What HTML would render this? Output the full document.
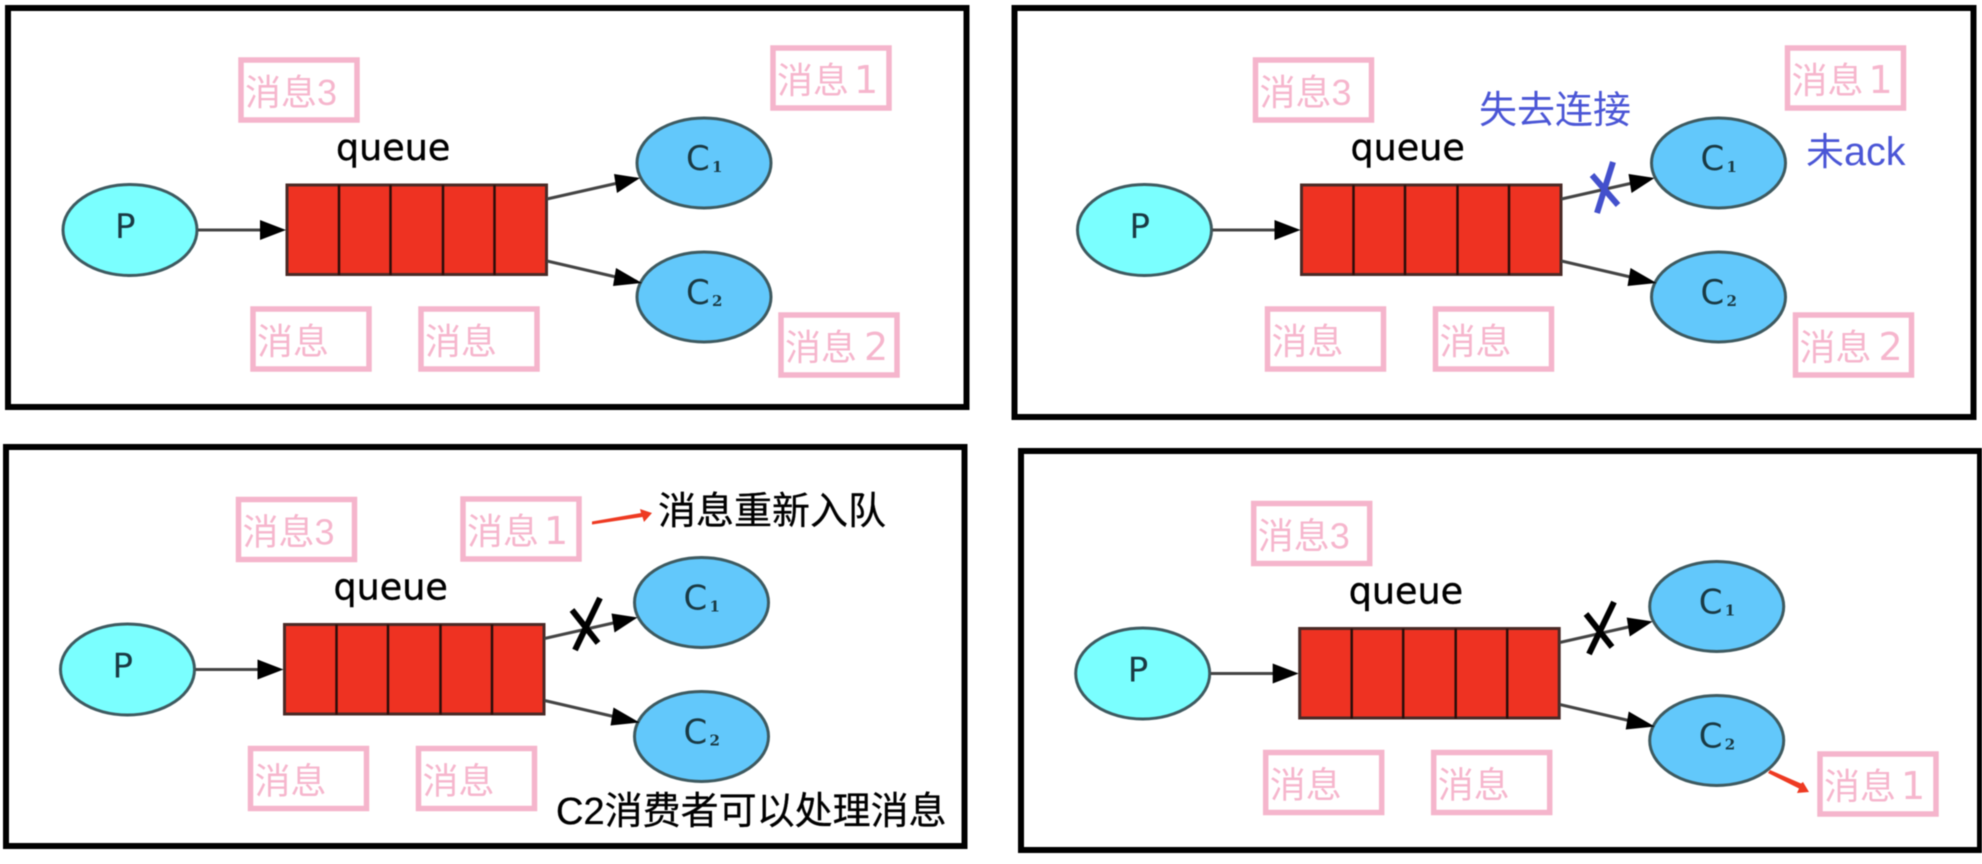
<!DOCTYPE html>
<html lang="zh">
<head>
<meta charset="utf-8">
<title>Message requeue diagram</title>
<style>
html,body{margin:0;padding:0;background:#fff;width:1982px;height:864px;overflow:hidden}
svg{display:block;filter:blur(.6px)}
.m{fill:#f6b6cd;font-family:"Liberation Sans","Noto Sans CJK SC",sans-serif;font-size:36px}
.d{fill:#f6b6cd;font-family:"DejaVu Sans",sans-serif;font-size:38px}
.b{fill:none;stroke:#f5b5cc;stroke-width:5.5}
.q{font-family:"DejaVu Sans",sans-serif;font-size:36.500px;fill:#000;stroke:#000;stroke-width:.4}
.n{font-family:"DejaVu Sans",sans-serif;font-size:34px;fill:#1a3a44}
.s{font-family:"DejaVu Serif",serif;font-size:15px;font-weight:bold;fill:#1a3a44}
.blue{fill:#4b56d6;font-family:"Liberation Sans","Noto Sans CJK SC",sans-serif;font-size:38px}
.blk{fill:#000;stroke:#000;stroke-width:.3;font-family:"Liberation Sans","Noto Sans CJK SC",sans-serif;font-size:38px}
.f{fill:none;stroke:#000;stroke-width:6}
.e{stroke:#3e5a60;stroke-width:3}
.l{stroke:#444;stroke-width:3;fill:none}
</style>
</head>
<body>
<svg width="1982" height="864" viewBox="0 0 1982 864" xmlns="http://www.w3.org/2000/svg">
<rect width="1982" height="864" fill="#fff"/>
<rect class="f" x="8" y="8" width="958.5" height="399"/>
<rect class="f" x="1014.5" y="8" width="959" height="409"/>
<rect class="f" x="6" y="447" width="958.5" height="399"/>
<rect class="f" x="1021" y="451" width="959" height="399"/>

<!-- Panel 1 -->
<g>
<ellipse class="e" cx="130" cy="230" rx="67" ry="45.5" fill="#7affff"/>
<line class="l" x1="198" y1="230" x2="262" y2="230"/>
<polygon points="260,220 286,230 260,240" fill="#000"/>
<rect x="287" y="185" width="259.5" height="89.5" fill="#ee3222" stroke="#4a2a26" stroke-width="3"/>
<path d="M339 185V275M390.500 185V275M443 185V275M494.500 185V275" stroke="#2a0e0a" stroke-width="2.5" fill="none"/>
<ellipse class="e" cx="704" cy="163" rx="67" ry="45" fill="#62c8fb"/>
<ellipse class="e" cx="704" cy="297" rx="67" ry="45" fill="#62c8fb"/>
<line class="l" x1="547" y1="199" x2="618" y2="183"/>
<polygon points="614,174 640,178 617,193" fill="#000"/>
<line class="l" x1="547" y1="261" x2="616" y2="277"/>
<polygon points="616,268 642,283 613,286" fill="#000"/>
<text class="q" x="336" y="160">queue</text>
<text class="n" x="115" y="238">P</text>
<text class="n" x="686" y="170">C</text><text class="s" x="712" y="172">1</text>
<text class="n" x="686" y="304">C</text><text class="s" x="712" y="306">2</text>
<rect class="b" x="241" y="60" width="116" height="60"/>
<text class="m" x="245" y="105">消息3</text>
<rect class="b" x="253" y="309" width="116" height="60"/>
<text class="m" x="257" y="354">消息</text>
<rect class="b" x="421" y="309" width="116" height="60"/>
<text class="m" x="425" y="354">消息</text>
</g>
<rect class="b" x="773" y="48" width="116" height="60"/>
<text class="m" x="777" y="93">消息</text><text class="d" x="854" y="93">1</text>
<rect class="b" x="781" y="315" width="116" height="60"/>
<text class="m" x="785" y="360">消息</text><text class="d" x="864" y="360">2</text>

<!-- Panel 2 -->
<g transform="translate(1014.5 0)">
<ellipse class="e" cx="130" cy="230" rx="67" ry="45.5" fill="#7affff"/>
<line class="l" x1="198" y1="230" x2="262" y2="230"/>
<polygon points="260,220 286,230 260,240" fill="#000"/>
<rect x="287" y="185" width="259.5" height="89.5" fill="#ee3222" stroke="#4a2a26" stroke-width="3"/>
<path d="M339 185V275M390.500 185V275M443 185V275M494.500 185V275" stroke="#2a0e0a" stroke-width="2.5" fill="none"/>
<ellipse class="e" cx="704" cy="163" rx="67" ry="45" fill="#62c8fb"/>
<ellipse class="e" cx="704" cy="297" rx="67" ry="45" fill="#62c8fb"/>
<line class="l" x1="547" y1="199" x2="618" y2="183"/>
<polygon points="614,174 640,178 617,193" fill="#000"/>
<line class="l" x1="547" y1="261" x2="616" y2="277"/>
<polygon points="616,268 642,283 613,286" fill="#000"/>
<text class="q" x="336" y="160">queue</text>
<text class="n" x="115" y="238">P</text>
<text class="n" x="686" y="170">C</text><text class="s" x="712" y="172">1</text>
<text class="n" x="686" y="304">C</text><text class="s" x="712" y="306">2</text>
<rect class="b" x="241" y="60" width="116" height="60"/>
<text class="m" x="245" y="105">消息3</text>
<rect class="b" x="253" y="309" width="116" height="60"/>
<text class="m" x="257" y="354">消息</text>
<rect class="b" x="421" y="309" width="116" height="60"/>
<text class="m" x="425" y="354">消息</text>
<rect class="b" x="773" y="48" width="116" height="60"/>
<text class="m" x="777" y="93">消息</text><text class="d" x="854" y="93">1</text>
<rect class="b" x="781" y="315" width="116" height="60"/>
<text class="m" x="785" y="360">消息</text><text class="d" x="864" y="360">2</text>
</g>
<text class="blue" x="1479" y="123">失去连接</text>
<text class="blue" x="1806" y="165">未<tspan font-size="39.500">ack</tspan></text>
<path d="M1592 175L1618 205M1613 162L1597 213" stroke="#4350cc" stroke-width="6" fill="none"/>

<!-- Panel 3 -->
<g transform="translate(-2.500 439.500)">
<ellipse class="e" cx="130" cy="230" rx="67" ry="45.5" fill="#7affff"/>
<line class="l" x1="198" y1="230" x2="262" y2="230"/>
<polygon points="260,220 286,230 260,240" fill="#000"/>
<rect x="287" y="185" width="259.5" height="89.5" fill="#ee3222" stroke="#4a2a26" stroke-width="3"/>
<path d="M339 185V275M390.500 185V275M443 185V275M494.500 185V275" stroke="#2a0e0a" stroke-width="2.5" fill="none"/>
<ellipse class="e" cx="704" cy="163" rx="67" ry="45" fill="#62c8fb"/>
<ellipse class="e" cx="704" cy="297" rx="67" ry="45" fill="#62c8fb"/>
<line class="l" x1="547" y1="199" x2="618" y2="183"/>
<polygon points="614,174 640,178 617,193" fill="#000"/>
<line class="l" x1="547" y1="261" x2="616" y2="277"/>
<polygon points="616,268 642,283 613,286" fill="#000"/>
<text class="q" x="336" y="160">queue</text>
<text class="n" x="115" y="238">P</text>
<text class="n" x="686" y="170">C</text><text class="s" x="712" y="172">1</text>
<text class="n" x="686" y="304">C</text><text class="s" x="712" y="306">2</text>
<rect class="b" x="241" y="60" width="116" height="60"/>
<text class="m" x="245" y="105">消息3</text>
<rect class="b" x="253" y="309" width="116" height="60"/>
<text class="m" x="257" y="354">消息</text>
<rect class="b" x="421" y="309" width="116" height="60"/>
<text class="m" x="425" y="354">消息</text>
</g>
<rect class="b" x="463" y="499" width="116" height="60"/>
<text class="m" x="467" y="544">消息</text><text class="d" x="544" y="544">1</text>
<polygon points="592,521.500 641,513 640,509 652,513 644,522 642.500,517 592,524.500" fill="#ee3a22"/>
<text class="blk" x="658" y="524">消息重新入队</text>
<text class="blk" x="556" y="824">C2消费者可以处理消息</text>
<path d="M572 610L598 643M600 598L575 650" stroke="#000" stroke-width="6" fill="none"/>

<!-- Panel 4 -->
<g transform="translate(1012.700 443.500)">
<ellipse class="e" cx="130" cy="230" rx="67" ry="45.5" fill="#7affff"/>
<line class="l" x1="198" y1="230" x2="262" y2="230"/>
<polygon points="260,220 286,230 260,240" fill="#000"/>
<rect x="287" y="185" width="259.5" height="89.5" fill="#ee3222" stroke="#4a2a26" stroke-width="3"/>
<path d="M339 185V275M390.500 185V275M443 185V275M494.500 185V275" stroke="#2a0e0a" stroke-width="2.5" fill="none"/>
<ellipse class="e" cx="704" cy="163" rx="67" ry="45" fill="#62c8fb"/>
<ellipse class="e" cx="704" cy="297" rx="67" ry="45" fill="#62c8fb"/>
<line class="l" x1="547" y1="199" x2="618" y2="183"/>
<polygon points="614,174 640,178 617,193" fill="#000"/>
<line class="l" x1="547" y1="261" x2="616" y2="277"/>
<polygon points="616,268 642,283 613,286" fill="#000"/>
<text class="q" x="336" y="160">queue</text>
<text class="n" x="115" y="238">P</text>
<text class="n" x="686" y="170">C</text><text class="s" x="712" y="172">1</text>
<text class="n" x="686" y="304">C</text><text class="s" x="712" y="306">2</text>
<rect class="b" x="241" y="60" width="116" height="60"/>
<text class="m" x="245" y="105">消息3</text>
<rect class="b" x="253" y="309" width="116" height="60"/>
<text class="m" x="257" y="354">消息</text>
<rect class="b" x="421" y="309" width="116" height="60"/>
<text class="m" x="425" y="354">消息</text>
</g>
<rect class="b" x="1820" y="754" width="116" height="60"/>
<text class="m" x="1824" y="799">消息</text><text class="d" x="1901" y="799">1</text>
<polygon points="1770,770 1801,783.500 1803,782 1809,792 1797,793 1799,788.500 1768,773" fill="#ee3a22"/>
<path d="M1586 614L1612 647M1614 602L1589 654" stroke="#000" stroke-width="6" fill="none"/>
</svg>
</body>
</html>
